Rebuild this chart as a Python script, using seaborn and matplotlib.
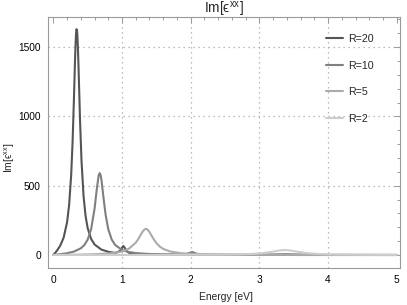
import numpy as np
import pandas as pd
import matplotlib
matplotlib.use("Agg")
import matplotlib.pyplot as plt
from matplotlib.ticker import MultipleLocator
import seaborn as sns

# ---- data ----
labels = ["R=20", "R=10", "R=5", "R=2"]

e_r20 = [0, 0.02, 0.05, 0.1, 0.15, 0.2, 0.23, 0.26, 0.28, 0.3, 0.315, 0.322, 0.33, 0.337,
         0.345, 0.352, 0.36, 0.367, 0.375, 0.39, 0.41, 0.44, 0.47, 0.5, 0.55, 0.6, 0.7,
         0.8, 0.9, 0.94, 0.97, 0.99, 1.005, 1.02, 1.035, 1.05, 1.07, 1.1, 1.15, 1.2,
         1.5, 2.0, 3.0, 4.0, 5.0]
v_r20 = [0, 11.4, 29.6, 66.9, 125, 236, 361, 579, 811, 1128, 1393, 1500, 1590, 1629,
         1620, 1567, 1465, 1351, 1211, 955, 683, 424, 279, 194, 116, 76, 39,
         23, 15, 21.7, 30, 42, 56.5, 64.7, 56, 40.7, 26.6, 16.6, 10.3, 6.5,
         2.6, 1.1, 0.3, 0.1, 0.05]

e_r10 = [0, 0.05, 0.1, 0.2, 0.3, 0.4, 0.45, 0.5, 0.55, 0.6, 0.63, 0.66, 0.675, 0.69,
         0.7, 0.73, 0.76, 0.8, 0.85, 0.9, 1.0, 1.1, 1.2, 1.4, 1.6, 1.8, 1.9, 1.95,
         1.99, 2.02, 2.05, 2.09, 2.14, 2.25, 2.5, 2.8, 3.0, 3.2, 3.37, 3.55, 3.75,
         4.0, 4.5, 5.0]
v_r10 = [0, 2.7, 5.7, 12.9, 24.6, 48.3, 71.1, 110.8, 185.9, 333, 463.5, 575, 591, 574,
         544, 415.5, 294, 185.4, 111.3, 72.4, 36.5, 21.5, 14.0, 7.1, 4.2, 3.7, 5.2, 8.8,
         16.6, 21.8, 16.5, 8.5, 4.6, 2.3, 1.1, 1.3, 1.8, 3.9, 6.3, 3.6, 1.55,
         0.74, 0.3, 0.1]

e_r5 = [0, 0.2, 0.4, 0.6, 0.8, 0.9, 1.0, 1.1, 1.2, 1.23, 1.26, 1.28, 1.31, 1.335, 1.355,
        1.375, 1.4, 1.425, 1.45, 1.5, 1.55, 1.6, 1.7, 1.85, 2.0, 2.3, 2.6, 3.0, 3.5,
        4.0, 4.5, 5.0]
v_r5 = [0, 1.2, 2.8, 5.4, 10.8, 16.1, 25.7, 45.1, 88.8, 110, 135, 152.6, 175.7, 186.9, 188,
        181.6, 165.4, 144.4, 122.8, 86.1, 60.8, 44.1, 25.4, 13.3, 8.0, 3.7, 2.1, 1.15, 0.64,
        0.4, 0.27, 0.19]

e_r2 = [0, 0.5, 1.0, 1.5, 2.0, 2.4, 2.7, 2.9, 3.05, 3.2, 3.3, 3.38, 3.46, 3.55, 3.7,
        3.85, 4.0, 4.2, 4.5, 5.0]
v_r2 = [0, 0.12, 0.28, 0.54, 1.08, 2.18, 4.34, 7.88, 13.6, 24.6, 33.4, 36.0, 32.0, 23.8,
        13.15, 7.68, 4.88, 2.97, 1.65, 0.8]

x_ticks = [0, 1, 2, 3, 4, 5]
y_ticks = [0, 500, 1000, 1500]
x_grid = [1, 2, 3, 4]
y_grid = [500, 1000, 1500]

colors = ["#555555", "#808080", "#ababab", "#cdcdcd"]

frames = []
for lab, e, v in zip(labels, [e_r20, e_r10, e_r5, e_r2], [v_r20, v_r10, v_r5, v_r2]):
    frames.append(pd.DataFrame({"Energy": e, "val": v, "R": lab}))
df = pd.concat(frames, ignore_index=True)

# ---- style ----
sns.set_style("white")
plt.rcParams["font.family"] = ["Liberation Sans", "DejaVu Sans"]
plt.rcParams["mathtext.fontset"] = "custom"
plt.rcParams["mathtext.rm"] = "Liberation Sans"
plt.rcParams["mathtext.it"] = "Liberation Sans:italic"

fig = plt.figure(figsize=(4.07, 3.05), dpi=100)
ax = fig.add_axes([47.7 / 407, 37.3 / 305, 352.3 / 407, 250.7 / 305])

for g in x_grid:
    ax.axvline(g, color="#a8a8a8", lw=0.9, ls=(0, (1, 3)), zorder=0)
for g in y_grid:
    ax.axhline(g, color="#a8a8a8", lw=0.9, ls=(0, (1, 3)), zorder=0)

sns.lineplot(data=df, x="Energy", y="val", hue="R", hue_order=labels,
             palette=colors, estimator=None, sort=False, lw=1.5, ax=ax)

ax.set_xlim(-0.082, 5.047)
ax.set_ylim(-91.6, 1717)
ax.set_xticks(x_ticks)
ax.set_yticks(y_ticks)
ax.xaxis.set_minor_locator(MultipleLocator(0.2))
ax.yaxis.set_minor_locator(MultipleLocator(100))

spine_c = "#9a9a9a"
for s in ax.spines.values():
    s.set_color(spine_c)
    s.set_linewidth(0.8)
ax.tick_params(which="both", direction="in", top=True, right=True, color=spine_c,
               labelsize=7.3, labelcolor="black", width=0.7)
ax.tick_params(which="major", length=4, pad=5)
ax.tick_params(which="minor", length=2.2)

ax.set_xlabel("Energy [eV]", fontsize=7.4)
ax.xaxis.set_label_coords(0.505, -0.116)
ax.xaxis.label.set_va("center")
ax.set_ylabel("Im[ϵ$^{\\mathrm{xx}}$]", fontsize=7.4)
ax.yaxis.set_label_coords(-0.107, 0.44)
ax.yaxis.label.set_va("center")

ax.text(0.5, 1.012, "Im[ϵ$^{\\mathrm{xx}}$]", transform=ax.transAxes, ha="center",
        va="baseline", fontsize=9.8)

h, l = ax.get_legend_handles_labels()
leg = ax.legend(h, l, loc="upper left", bbox_to_anchor=(326 / 407, 1 - 34 / 305),
                bbox_transform=fig.transFigure, frameon=False, fontsize=7.7,
                handlelength=1.6, handletextpad=0.5, labelspacing=1.55,
                borderpad=0, borderaxespad=0)
for line in leg.get_lines():
    line.set_linewidth(1.5)

fig.savefig("out.png", dpi=100)
